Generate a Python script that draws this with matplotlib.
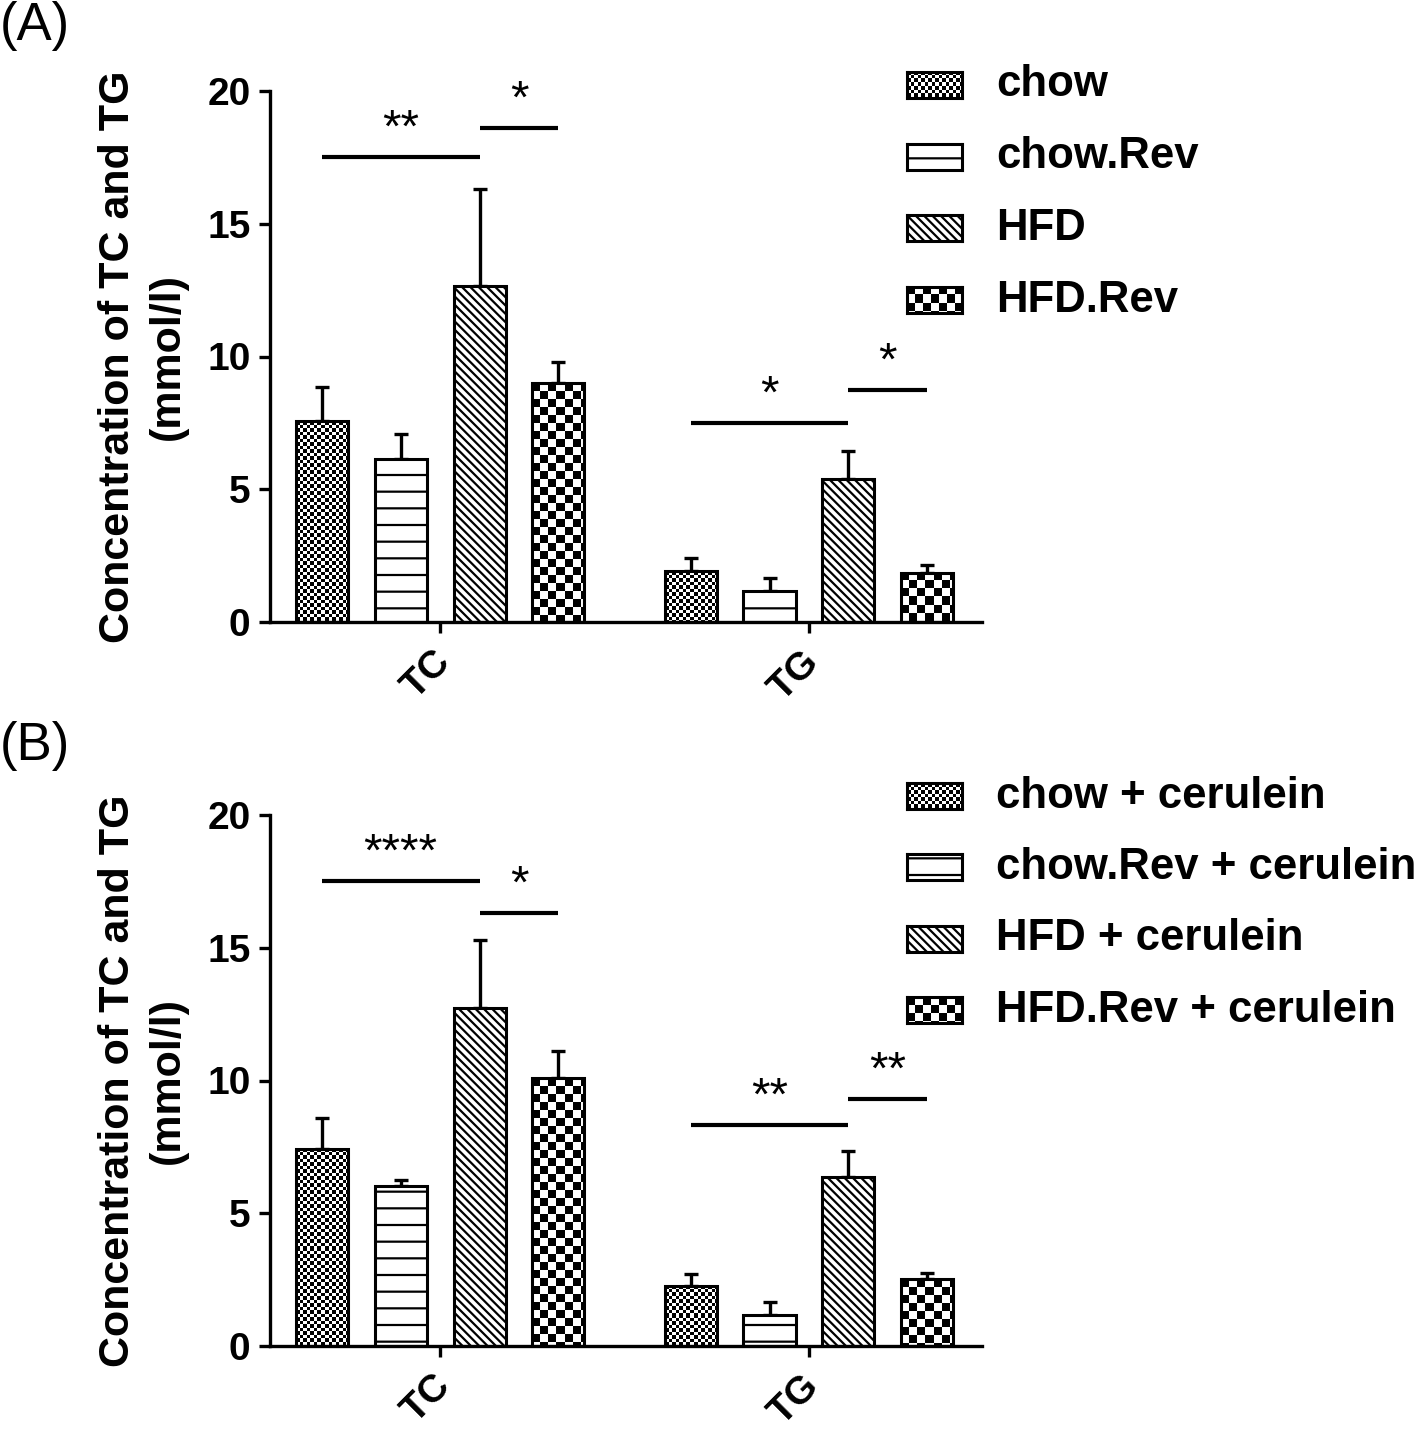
import numpy as np
import matplotlib
matplotlib.use('Agg')
import matplotlib.pyplot as plt
from matplotlib.patches import Rectangle
from matplotlib.transforms import ScaledTranslation

plt.rcParams['font.family'] = ['Liberation Sans', 'DejaVu Sans']
plt.rcParams['hatch.linewidth'] = 1.6

# data
groups = ['TC', 'TG']
labels_a = ['chow', 'chow.Rev', 'HFD', 'HFD.Rev']
labels_b = ['chow + cerulein', 'chow.Rev + cerulein', 'HFD + cerulein', 'HFD.Rev + cerulein']

# mean per bar [TC, TG] and upper error
mean_a = [[7.57, 1.92], [6.14, 1.17], [12.66, 5.39], [9.0, 1.85]]
err_a = [[1.28, 0.49], [0.94, 0.49], [3.64, 1.05], [0.8, 0.30]]
mean_b = [[7.42, 2.26], [6.03, 1.17], [12.73, 6.37], [10.09, 2.52]]
err_b = [[1.17, 0.45], [0.22, 0.49], [2.56, 0.97], [1.02, 0.23]]

# significance: (group, bar from, bar to, height, text)
sig_a = [(0, 0, 2, 17.5, '**'), (0, 2, 3, 18.6, '*'),
         (1, 0, 2, 7.5, '*'), (1, 2, 3, 8.74, '*')]
sig_b = [(0, 0, 2, 17.5, '****'), (0, 2, 3, 16.3, '*'),
         (1, 0, 2, 8.32, '**'), (1, 2, 3, 9.3, '**')]

styles = ['dots', '-', '\\\\\\\\', 'checker']
offsets = [-0.321, -0.107, 0.107, 0.321]
bar_w = 0.141

W, H = 1416, 1432


def texture(kind, w, h):
    yy, xx = np.mgrid[0:h, 0:w]
    if kind == 'dots':
        black = ((xx * 2 // 7 + yy * 2 // 7) % 2 == 0)
    else:
        black = ((xx // 8 + yy // 8) % 2 == 0)
    return np.where(black, 0.0, 1.0)


def draw_panel(ax, means, errs, sigs):
    ax.set_xlim(-0.461, 1.469)
    ax.set_ylim(0, 20)
    for i in range(4):
        xs = np.arange(2) + offsets[i]
        vals = means[i]
        hatch = styles[i] if styles[i] in ('-', '\\\\\\\\') else None
        ax.errorbar(xs, vals, yerr=[[0, 0], errs[i]], fmt='none', ecolor='k',
                    elinewidth=2.4, capsize=5, capthick=2.4, zorder=1)
        bars = ax.bar(xs, vals, bar_w, facecolor='white', edgecolor='black',
                      lw=0, hatch=hatch, zorder=2)
        if hatch is None:
            for b in bars:
                x0, y0 = b.get_x(), b.get_y()
                x1, y1 = x0 + b.get_width(), y0 + b.get_height()
                p0 = ax.transData.transform((x0, y0))
                p1 = ax.transData.transform((x1, y1))
                pw = max(int(round(p1[0] - p0[0])), 1)
                ph = max(int(round(p1[1] - p0[1])), 1)
                ax.imshow(texture(styles[i], pw, ph), cmap='gray', vmin=0, vmax=1,
                          extent=[x0, x1, y0, y1], origin='upper', aspect='auto',
                          interpolation='nearest', clip_path=b, zorder=2.5)
        ax.bar(xs, vals, bar_w, facecolor='none', edgecolor='black', lw=2.2, zorder=3)

    for g, a, b, h, txt in sigs:
        xa = g + offsets[a]
        xb = g + offsets[b]
        ax.plot([xa, xb], [h, h], color='k', lw=3, solid_capstyle='butt', zorder=4)
        ax.text((xa + xb) / 2, h + 0.2, txt, ha='center', va='bottom', fontsize=34, zorder=4)

    for s in ['top', 'right']:
        ax.spines[s].set_visible(False)
    for s in ['left', 'bottom']:
        ax.spines[s].set_linewidth(2.4)
    ax.set_yticks([0, 5, 10, 15, 20])
    ax.set_xticks([0, 1])
    ax.set_xticklabels(groups, rotation=45, ha='right', va='center', rotation_mode='anchor',
                       fontsize=29, fontweight='bold')
    ax.tick_params(axis='both', width=2.4, length=8, labelsize=28, pad=6)
    ax.tick_params(axis='x', pad=17)
    shift = ScaledTranslation(5 / 100, 0, ax.figure.dpi_scale_trans)
    for t in ax.get_xticklabels():
        t.set_transform(t.get_transform() + shift)
    for t in ax.get_yticklabels():
        t.set_fontweight('bold')
    ax.set_ylabel('Concentration of TC and TG\n(mmol/l)', fontsize=31, fontweight='bold',
                  linespacing=1.3, labelpad=14)


def draw_legend(fig, names, ys):
    for i, (name, yc) in enumerate(zip(names, ys)):
        lax = fig.add_axes([907 / W, 1 - (yc + 13) / H, 55 / W, 26 / H])
        lax.set_xlim(0, 1)
        lax.set_ylim(0, 1)
        if styles[i] in ('dots', 'checker'):
            lax.imshow(texture(styles[i], 55, 26), cmap='gray', vmin=0, vmax=1,
                       extent=[0, 1, 0, 1], aspect='auto', interpolation='nearest')
        else:
            lax.add_patch(Rectangle((0, 0), 1, 1, facecolor='white', edgecolor='black',
                                    lw=0, hatch=styles[i]))
        lax.set_xticks([])
        lax.set_yticks([])
        for s in lax.spines.values():
            s.set_linewidth(2.2)
        fig.text(996 / W, 1 - yc / H, name, fontsize=31.5, fontweight='bold',
                 ha='left', va='center')


fig = plt.figure(figsize=(W / 100, H / 100), dpi=100)
ax_a = fig.add_axes([270 / W, 1 - 622 / H, 712 / W, 531 / H])
ax_b = fig.add_axes([270 / W, 1 - 1346 / H, 712 / W, 531 / H])

draw_panel(ax_a, mean_a, err_a, sig_a)
draw_panel(ax_b, mean_b, err_b, sig_b)
draw_legend(fig, labels_a, [85, 157, 228, 300])
draw_legend(fig, labels_b, [796, 867, 939, 1010])

fig.text(0, 1 - 1 / H, '(A)', fontsize=38, ha='left', va='top')
fig.text(0, 1 - 721 / H, '(B)', fontsize=38, ha='left', va='top')

fig.savefig('out.png', dpi=100)
